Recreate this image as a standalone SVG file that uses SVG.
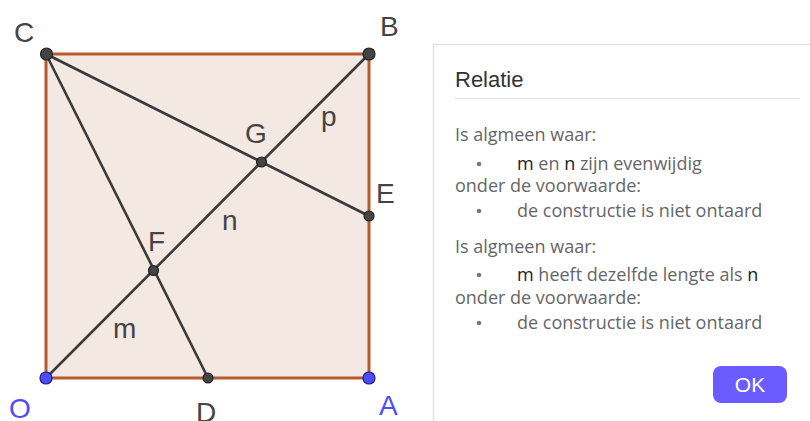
<svg xmlns="http://www.w3.org/2000/svg" width="810" height="421" viewBox="0 0 810 421">
<style>
.seg{stroke:#3a3a3a;stroke-width:2.6;stroke-linecap:round;fill:none}
.pt{fill:#444;stroke:#222;stroke-width:1.2}
.bpt{fill:#4d4dff;stroke:#1a1a8c;stroke-width:1.2}
.lbl{font-family:"Liberation Sans",Arial,sans-serif;font-size:28px;fill:#444}
.blbl{font-family:"Liberation Sans",Arial,sans-serif;font-size:28px;fill:#4d4dff}
.body{font-family:"Open Sans","Noto Sans",sans-serif;font-size:18px;fill:#666}
.dk{fill:#222}
.bul{fill:#777}
</style>
<rect width="810" height="421" fill="#fff"/>
<g id="square">
<rect x="46" y="54" width="323" height="324" fill="#f4e8e3" stroke="#b85a2e" stroke-width="3"/>
</g>
<g id="connectors">
<line class="seg" x1="46" y1="378" x2="369" y2="54"/>
<line class="seg" x1="46" y1="54" x2="208" y2="378"/>
<line class="seg" x1="46" y1="54" x2="369" y2="216"/>
</g>
<g id="node-C"><circle class="pt" cx="46.5" cy="54" r="6"/><text class="lbl" x="14" y="42">C</text></g>
<g id="node-B"><circle class="pt" cx="369" cy="54" r="6"/><text class="lbl" x="380" y="36">B</text></g>
<g id="node-G"><circle class="pt" cx="261.5" cy="162" r="5"/><text class="lbl" x="245" y="143">G</text></g>
<g id="node-E"><circle class="pt" cx="369" cy="216" r="5"/><text class="lbl" x="376" y="203">E</text></g>
<g id="node-F"><circle class="pt" cx="153.5" cy="270.5" r="5"/><text class="lbl" x="148" y="251">F</text></g>
<g id="node-D"><circle class="pt" cx="208" cy="378" r="5"/><text class="lbl" x="196" y="422">D</text></g>
<g id="node-O"><circle class="bpt" cx="46" cy="378" r="6"/><text class="blbl" x="9" y="418">O</text></g>
<g id="node-A"><circle class="bpt" cx="369" cy="378" r="6"/><text class="blbl" x="379" y="415">A</text></g>
<g id="seg-labels">
<text class="lbl" x="321" y="126">p</text>
<text class="lbl" x="222" y="230">n</text>
<text class="lbl" x="113" y="338">m</text>
</g>
<g id="panel">
<rect x="433.5" y="44.5" width="390" height="390" fill="#fff" stroke="#e2e2e2" stroke-width="1.5"/>
<text x="455" y="87" font-family="Liberation Sans,Arial,sans-serif" font-size="22" fill="#333">Relatie</text>
<line x1="455" y1="98.5" x2="800" y2="98.5" stroke="#dcdcdc" stroke-width="1"/>
<text class="body" x="455" y="141">Is algmeen waar:</text>
<circle class="bul" cx="479" cy="164" r="2.3"/>
<text class="body" x="517" y="170"><tspan class="dk">m</tspan> en <tspan class="dk">n</tspan> zijn evenwijdig</text>
<text class="body" x="455" y="192">onder de voorwaarde:</text>
<circle class="bul" cx="479" cy="211" r="2.3"/>
<text class="body" x="517" y="217">de constructie is niet ontaard</text>
<text class="body" x="455" y="253">Is algmeen waar:</text>
<circle class="bul" cx="479" cy="275" r="2.3"/>
<text class="body" x="517" y="281"><tspan class="dk">m</tspan> heeft dezelfde lengte als <tspan class="dk">n</tspan></text>
<text class="body" x="455" y="304">onder de voorwaarde:</text>
<circle class="bul" cx="479" cy="323" r="2.3"/>
<text class="body" x="517" y="329">de constructie is niet ontaard</text>
</g>
<g id="ok-button">
<rect x="713" y="366" width="74" height="37" rx="8" fill="#6a5cff"/>
<text x="750" y="392" text-anchor="middle" font-family="Liberation Sans,Arial,sans-serif" font-size="21" fill="#fff">OK</text>
</g>
</svg>
